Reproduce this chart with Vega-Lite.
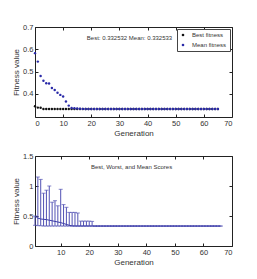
{
  "$schema": "https://vega.github.io/schema/vega-lite/v6.json",
  "background": "white",
  "padding": {"left": 12, "top": 22, "right": 5, "bottom": 5},
  "spacing": 13,
  "config": {
    "font": "Liberation Sans",
    "view": {"stroke": "#222", "strokeWidth": 1},
    "axis": {
      "domain": false,
      "grid": false,
      "tickSize": -3,
      "tickColor": "#222",
      "labelFontSize": 7.5,
      "labelColor": "#333",
      "labelPadding": 5,
      "titleFontSize": 8,
      "titleColor": "#333",
      "titleFontWeight": "normal"
    },
    "title": {"fontSize": 6, "fontWeight": "normal", "color": "#333", "offset": -18}
  },
  "datasets": {
    "fitness": [
      {"gen": 0, "best": 0.345, "mean": 0.583},
      {"gen": 1, "best": 0.339, "mean": 0.545},
      {"gen": 2, "best": 0.338, "mean": 0.481},
      {"gen": 3, "best": 0.3325, "mean": 0.459},
      {"gen": 4, "best": 0.3325, "mean": 0.448},
      {"gen": 5, "best": 0.3325, "mean": 0.447},
      {"gen": 6, "best": 0.3325, "mean": 0.427},
      {"gen": 7, "best": 0.3325, "mean": 0.418},
      {"gen": 8, "best": 0.3325, "mean": 0.406},
      {"gen": 9, "best": 0.3325, "mean": 0.396},
      {"gen": 10, "best": 0.3325, "mean": 0.389},
      {"gen": 11, "best": 0.3325, "mean": 0.366},
      {"gen": 12, "best": 0.3325, "mean": 0.348},
      {"gen": 13, "best": 0.3325, "mean": 0.337},
      {"gen": 14, "best": 0.3325, "mean": 0.336},
      {"gen": 15, "best": 0.3325, "mean": 0.335},
      {"gen": 16, "best": 0.3325, "mean": 0.334},
      {"gen": 17, "best": 0.3325, "mean": 0.3333},
      {"gen": 18, "best": 0.332532, "mean": 0.332533},
      {"gen": 19, "best": 0.332532, "mean": 0.332533},
      {"gen": 20, "best": 0.332532, "mean": 0.332533},
      {"gen": 21, "best": 0.332532, "mean": 0.332533},
      {"gen": 22, "best": 0.332532, "mean": 0.332533},
      {"gen": 23, "best": 0.332532, "mean": 0.332533},
      {"gen": 24, "best": 0.332532, "mean": 0.332533},
      {"gen": 25, "best": 0.332532, "mean": 0.332533},
      {"gen": 26, "best": 0.332532, "mean": 0.332533},
      {"gen": 27, "best": 0.332532, "mean": 0.332533},
      {"gen": 28, "best": 0.332532, "mean": 0.332533},
      {"gen": 29, "best": 0.332532, "mean": 0.332533},
      {"gen": 30, "best": 0.332532, "mean": 0.332533},
      {"gen": 31, "best": 0.332532, "mean": 0.332533},
      {"gen": 32, "best": 0.332532, "mean": 0.332533},
      {"gen": 33, "best": 0.332532, "mean": 0.332533},
      {"gen": 34, "best": 0.332532, "mean": 0.332533},
      {"gen": 35, "best": 0.332532, "mean": 0.332533},
      {"gen": 36, "best": 0.332532, "mean": 0.332533},
      {"gen": 37, "best": 0.332532, "mean": 0.332533},
      {"gen": 38, "best": 0.332532, "mean": 0.332533},
      {"gen": 39, "best": 0.332532, "mean": 0.332533},
      {"gen": 40, "best": 0.332532, "mean": 0.332533},
      {"gen": 41, "best": 0.332532, "mean": 0.332533},
      {"gen": 42, "best": 0.332532, "mean": 0.332533},
      {"gen": 43, "best": 0.332532, "mean": 0.332533},
      {"gen": 44, "best": 0.332532, "mean": 0.332533},
      {"gen": 45, "best": 0.332532, "mean": 0.332533},
      {"gen": 46, "best": 0.332532, "mean": 0.332533},
      {"gen": 47, "best": 0.332532, "mean": 0.332533},
      {"gen": 48, "best": 0.332532, "mean": 0.332533},
      {"gen": 49, "best": 0.332532, "mean": 0.332533},
      {"gen": 50, "best": 0.332532, "mean": 0.332533},
      {"gen": 51, "best": 0.332532, "mean": 0.332533},
      {"gen": 52, "best": 0.332532, "mean": 0.332533},
      {"gen": 53, "best": 0.332532, "mean": 0.332533},
      {"gen": 54, "best": 0.332532, "mean": 0.332533},
      {"gen": 55, "best": 0.332532, "mean": 0.332533},
      {"gen": 56, "best": 0.332532, "mean": 0.332533},
      {"gen": 57, "best": 0.332532, "mean": 0.332533},
      {"gen": 58, "best": 0.332532, "mean": 0.332533},
      {"gen": 59, "best": 0.332532, "mean": 0.332533},
      {"gen": 60, "best": 0.332532, "mean": 0.332533},
      {"gen": 61, "best": 0.332532, "mean": 0.332533},
      {"gen": 62, "best": 0.332532, "mean": 0.332533},
      {"gen": 63, "best": 0.332532, "mean": 0.332533},
      {"gen": 64, "best": 0.332532, "mean": 0.332533},
      {"gen": 65, "best": 0.332532, "mean": 0.332533}
    ],
    "scores": [
      {"gen": 1, "best": 0.345, "worst": 0.5, "mean": 0.5},
      {"gen": 2, "best": 0.339, "worst": 1.15, "mean": 0.465},
      {"gen": 3, "best": 0.338, "worst": 1.11, "mean": 0.45},
      {"gen": 4, "best": 0.3325, "worst": 0.88, "mean": 0.445},
      {"gen": 5, "best": 0.3325, "worst": 0.93, "mean": 0.44},
      {"gen": 6, "best": 0.3325, "worst": 1.0, "mean": 0.43},
      {"gen": 7, "best": 0.3325, "worst": 0.73, "mean": 0.42},
      {"gen": 8, "best": 0.3325, "worst": 0.755, "mean": 0.41},
      {"gen": 9, "best": 0.3325, "worst": 0.67, "mean": 0.4},
      {"gen": 10, "best": 0.3325, "worst": 0.945, "mean": 0.39},
      {"gen": 11, "best": 0.3325, "worst": 0.69, "mean": 0.375},
      {"gen": 12, "best": 0.3325, "worst": 0.645, "mean": 0.36},
      {"gen": 13, "best": 0.3325, "worst": 0.56, "mean": 0.345},
      {"gen": 14, "best": 0.3325, "worst": 0.56, "mean": 0.335},
      {"gen": 15, "best": 0.3325, "worst": 0.56, "mean": 0.3335},
      {"gen": 16, "best": 0.3325, "worst": 0.55, "mean": 0.333},
      {"gen": 17, "best": 0.3325, "worst": 0.415, "mean": 0.333},
      {"gen": 18, "best": 0.3325, "worst": 0.415, "mean": 0.333},
      {"gen": 19, "best": 0.3325, "worst": 0.415, "mean": 0.333},
      {"gen": 20, "best": 0.3325, "worst": 0.415, "mean": 0.333},
      {"gen": 21, "best": 0.3325, "worst": 0.41, "mean": 0.333},
      {"gen": 22, "best": 0.332532, "worst": 0.3326, "mean": 0.332533},
      {"gen": 23, "best": 0.332532, "worst": 0.3326, "mean": 0.332533},
      {"gen": 24, "best": 0.332532, "worst": 0.3326, "mean": 0.332533},
      {"gen": 25, "best": 0.332532, "worst": 0.3326, "mean": 0.332533},
      {"gen": 26, "best": 0.332532, "worst": 0.3326, "mean": 0.332533},
      {"gen": 27, "best": 0.332532, "worst": 0.3326, "mean": 0.332533},
      {"gen": 28, "best": 0.332532, "worst": 0.3326, "mean": 0.332533},
      {"gen": 29, "best": 0.332532, "worst": 0.3326, "mean": 0.332533},
      {"gen": 30, "best": 0.332532, "worst": 0.3326, "mean": 0.332533},
      {"gen": 31, "best": 0.332532, "worst": 0.3326, "mean": 0.332533},
      {"gen": 32, "best": 0.332532, "worst": 0.3326, "mean": 0.332533},
      {"gen": 33, "best": 0.332532, "worst": 0.3326, "mean": 0.332533},
      {"gen": 34, "best": 0.332532, "worst": 0.3326, "mean": 0.332533},
      {"gen": 35, "best": 0.332532, "worst": 0.3326, "mean": 0.332533},
      {"gen": 36, "best": 0.332532, "worst": 0.3326, "mean": 0.332533},
      {"gen": 37, "best": 0.332532, "worst": 0.3326, "mean": 0.332533},
      {"gen": 38, "best": 0.332532, "worst": 0.3326, "mean": 0.332533},
      {"gen": 39, "best": 0.332532, "worst": 0.3326, "mean": 0.332533},
      {"gen": 40, "best": 0.332532, "worst": 0.3326, "mean": 0.332533},
      {"gen": 41, "best": 0.332532, "worst": 0.3326, "mean": 0.332533},
      {"gen": 42, "best": 0.332532, "worst": 0.3326, "mean": 0.332533},
      {"gen": 43, "best": 0.332532, "worst": 0.3326, "mean": 0.332533},
      {"gen": 44, "best": 0.332532, "worst": 0.3326, "mean": 0.332533},
      {"gen": 45, "best": 0.332532, "worst": 0.3326, "mean": 0.332533},
      {"gen": 46, "best": 0.332532, "worst": 0.3326, "mean": 0.332533},
      {"gen": 47, "best": 0.332532, "worst": 0.3326, "mean": 0.332533},
      {"gen": 48, "best": 0.332532, "worst": 0.3326, "mean": 0.332533},
      {"gen": 49, "best": 0.332532, "worst": 0.3326, "mean": 0.332533},
      {"gen": 50, "best": 0.332532, "worst": 0.3326, "mean": 0.332533},
      {"gen": 51, "best": 0.332532, "worst": 0.3326, "mean": 0.332533},
      {"gen": 52, "best": 0.332532, "worst": 0.3326, "mean": 0.332533},
      {"gen": 53, "best": 0.332532, "worst": 0.3326, "mean": 0.332533},
      {"gen": 54, "best": 0.332532, "worst": 0.3326, "mean": 0.332533},
      {"gen": 55, "best": 0.332532, "worst": 0.3326, "mean": 0.332533},
      {"gen": 56, "best": 0.332532, "worst": 0.3326, "mean": 0.332533},
      {"gen": 57, "best": 0.332532, "worst": 0.3326, "mean": 0.332533},
      {"gen": 58, "best": 0.332532, "worst": 0.3326, "mean": 0.332533},
      {"gen": 59, "best": 0.332532, "worst": 0.3326, "mean": 0.332533},
      {"gen": 60, "best": 0.332532, "worst": 0.3326, "mean": 0.332533},
      {"gen": 61, "best": 0.332532, "worst": 0.3326, "mean": 0.332533},
      {"gen": 62, "best": 0.332532, "worst": 0.3326, "mean": 0.332533},
      {"gen": 63, "best": 0.332532, "worst": 0.3326, "mean": 0.332533},
      {"gen": 64, "best": 0.332532, "worst": 0.3326, "mean": 0.332533},
      {"gen": 65, "best": 0.332532, "worst": 0.3326, "mean": 0.332533},
      {"gen": 66, "best": 0.332532, "worst": 0.3326, "mean": 0.332533}
    ]
  },
  "vconcat": [
    {
      "width": 197,
      "height": 90,
      "title": {"text": "Best: 0.332532 Mean: 0.332533", "dx": -4},
      "data": {"name": "fitness"},
      "transform": [{"fold": ["best", "mean"], "as": ["series", "value"]}],
      "resolve": {"axis": {"x": "independent", "y": "independent"}},
      "layer": [
        {
          "mark": {"type": "circle", "size": 6, "opacity": 1},
          "encoding": {
            "x": {
              "field": "gen", "type": "quantitative",
              "scale": {"domain": [0, 70], "nice": false},
              "axis": {"values": [0, 10, 20, 30, 40, 50, 60, 70], "title": "Generation", "titlePadding": 3}
            },
            "y": {
              "field": "value", "type": "quantitative",
              "scale": {"domain": [0.297, 0.7], "nice": false, "zero": false},
              "axis": {"values": [0.4, 0.5, 0.6, 0.7], "format": ".1f", "title": "Fitness value", "titlePadding": 2}
            },
            "color": {
              "field": "series", "type": "nominal",
              "scale": {"domain": ["best", "mean"], "range": ["#111111", "#2a2aa8"]},
              "legend": {
                "orient": "top-right",
                "offset": 2,
                "title": null,
                "strokeColor": "#444",
                "fillColor": "white",
                "padding": 3,
                "symbolType": "circle",
                "symbolSize": 7,
                "labelFontSize": 6,
                "labelColor": "#333",
                "labelOffset": 6,
                "rowPadding": 4,
                "labelExpr": "datum.label == 'best' ? 'Best fitness' : 'Mean fitness'"
              }
            }
          }
        },
        {
          "mark": {"type": "circle", "size": 6, "opacity": 0},
          "encoding": {
            "x": {"field": "gen", "type": "quantitative", "axis": {"orient": "top", "values": [0, 10, 20, 30, 40, 50, 60, 70], "labels": false, "title": null}},
            "y": {"field": "value", "type": "quantitative", "axis": {"orient": "right", "values": [0.4, 0.5, 0.6, 0.7], "labels": false, "title": null}}
          }
        }
      ]
    },
    {
      "width": 197,
      "height": 90,
      "title": {"text": "Best, Worst, and Mean Scores", "dx": -2},
      "data": {"name": "scores"},
      "resolve": {"axis": {"x": "independent", "y": "independent"}},
      "layer": [
        {
          "mark": {"type": "errorbar", "color": "#5252b4", "ticks": {"size": 4, "thickness": 1}},
          "encoding": {
            "x": {
              "field": "gen", "type": "quantitative",
              "scale": {"domain": [1, 70], "nice": false},
              "axis": {"values": [10, 20, 30, 40, 50, 60, 70], "title": "Generation", "titlePadding": 3}
            },
            "y": {
              "field": "worst", "type": "quantitative",
              "scale": {"domain": [0, 1.5], "nice": false},
              "axis": {"values": [0, 0.5, 1, 1.5], "format": "~g", "title": "Fitness value", "titlePadding": 2}
            },
            "y2": {"field": "best"}
          }
        },
        {
          "mark": {"type": "line", "color": "#3b3ba8", "strokeWidth": 1},
          "encoding": {
            "x": {"field": "gen", "type": "quantitative", "axis": {"orient": "top", "values": [10, 20, 30, 40, 50, 60, 70], "labels": false, "title": null}},
            "y": {"field": "mean", "type": "quantitative", "axis": {"orient": "right", "values": [0, 0.5, 1, 1.5], "labels": false, "title": null}}
          }
        }
      ]
    }
  ]
}
